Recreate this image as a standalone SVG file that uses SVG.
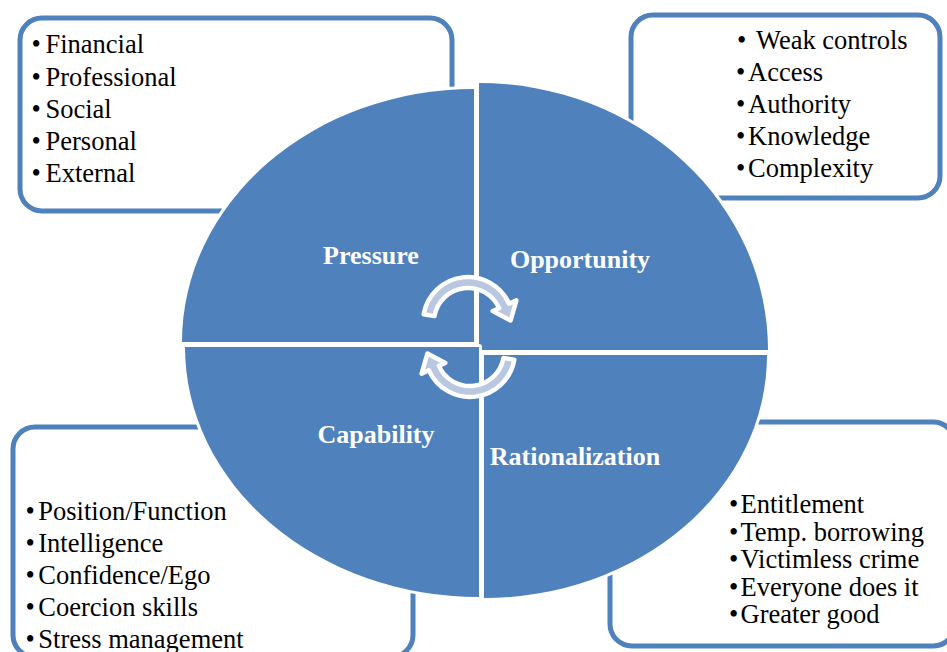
<svg xmlns="http://www.w3.org/2000/svg" xmlns:xlink="http://www.w3.org/1999/xlink" width="947" height="652" viewBox="0 0 947 652">
  <style>
    .box { fill: #ffffff; stroke: #4f81bd; stroke-width: 5; }
    .quad { fill: #4f81bd; stroke: #ffffff; stroke-width: 6; paint-order: stroke; stroke-linejoin: round; }
    .item { font-family: "Liberation Serif", "Times New Roman", serif; font-size: 26.5px; fill: #000000; }
    .label { font-family: "Liberation Serif", "Times New Roman", serif; font-size: 26px; font-weight: bold; fill: #ffffff; text-anchor: middle; }
    .cycle { fill: #b9c7e0; stroke: #ffffff; stroke-width: 4.5; stroke-linejoin: round; }
  </style>
  <defs>
    <!-- curved arrow: band over the top, head turning down on the right -->
    <path id="cyc" d="M423.7,314.2 A45,45 0 0 1 509.1,303.7 L516.4,300.4 L510.6,320.5 L492.7,311 L499.1,308.2 A34,34 0 0 0 434.5,316.1 Z"/>
  </defs>
  <rect width="947" height="652" fill="#ffffff"/>

  <!-- list boxes (drawn under the pie) -->
  <g id="box-pressure">
    <rect class="box" x="20" y="18" width="432" height="193" rx="22"/>
    <g class="item">
      <text x="31.5" y="53.3">•</text><text x="45.5" y="53.3">Financial</text>
      <text x="31.5" y="85.5">•</text><text x="45.5" y="85.5">Professional</text>
      <text x="31.5" y="117.7">•</text><text x="45.5" y="117.7">Social</text>
      <text x="31.5" y="149.9">•</text><text x="45.5" y="149.9">Personal</text>
      <text x="31.5" y="182.1">•</text><text x="45.5" y="182.1">External</text>
    </g>
  </g>
  <g id="box-opportunity">
    <rect class="box" x="631" y="15" width="309" height="183" rx="22"/>
    <g class="item">
      <text x="737" y="49">•</text><text x="756" y="49">Weak controls</text>
      <text x="736" y="81">•</text><text x="748" y="81">Access</text>
      <text x="736" y="113">•</text><text x="748" y="113">Authority</text>
      <text x="736" y="145">•</text><text x="748" y="145">Knowledge</text>
      <text x="736" y="177">•</text><text x="748" y="177">Complexity</text>
    </g>
  </g>
  <g id="box-capability">
    <rect class="box" x="13" y="427" width="400" height="230" rx="22"/>
    <g class="item">
      <text x="25.5" y="519.5">•</text><text x="38.3" y="519.5">Position/Function</text>
      <text x="25.5" y="551.5">•</text><text x="38.3" y="551.5">Intelligence</text>
      <text x="25.5" y="583.5">•</text><text x="38.3" y="583.5">Confidence/Ego</text>
      <text x="25.5" y="615.5">•</text><text x="38.3" y="615.5">Coercion skills</text>
      <text x="25.5" y="647.5">•</text><text x="38.3" y="647.5">Stress management</text>
    </g>
  </g>
  <g id="box-rationalization">
    <rect class="box" x="610" y="422" width="345" height="224" rx="22"/>
    <g class="item">
      <text x="729" y="513.3">•</text><text x="740.5" y="513.3">Entitlement</text>
      <text x="729" y="540.8">•</text><text x="740.5" y="540.8">Temp. borrowing</text>
      <text x="729" y="568.3">•</text><text x="740.5" y="568.3">Victimless crime</text>
      <text x="729" y="595.8">•</text><text x="740.5" y="595.8">Everyone does it</text>
      <text x="729" y="623.3">•</text><text x="740.5" y="623.3">Greater good</text>
    </g>
  </g>

  <!-- pie quadrants -->
  <g id="quad-pressure">
    <path class="quad" d="M474,342 L182,342 A292,253 0 0 1 474,89 Z"/>
    <text class="label" x="371" y="263.5">Pressure</text>
  </g>
  <g id="quad-opportunity">
    <path class="quad" d="M479,350 L479,83 A289,267 0 0 1 768,350 Z"/>
    <text class="label" x="580" y="267.5">Opportunity</text>
  </g>
  <g id="quad-capability">
    <path class="quad" d="M479,347 L479,597 A294,250 0 0 1 185,347 Z"/>
    <text class="label" x="376" y="442.7">Capability</text>
  </g>
  <g id="quad-rationalization">
    <path class="quad" d="M484,355 L767,355 A283,243 0 0 1 484,598 Z"/>
    <text class="label" x="575" y="464.5">Rationalization</text>
  </g>

  <!-- cycle arrows -->
  <g id="connectors">
    <use xlink:href="#cyc" class="cycle"/>
    <use xlink:href="#cyc" class="cycle" transform="rotate(180 469 337)"/>
  </g>
</svg>
